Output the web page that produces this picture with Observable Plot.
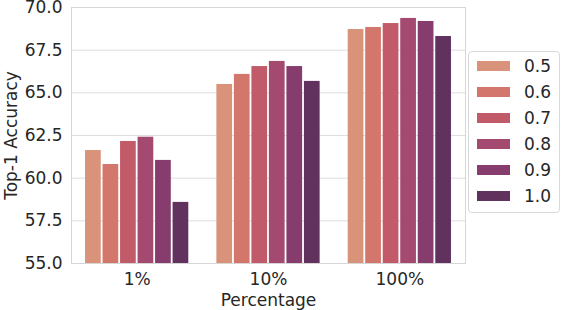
<!DOCTYPE html>
<html>
<head>
<meta charset="utf-8">
<script src="https://cdn.jsdelivr.net/npm/d3@7"></script>
<script src="https://cdn.jsdelivr.net/npm/@observablehq/plot@0.6"></script>
<style>
  html, body { margin: 0; padding: 0; background: white; }
  #wrap { position: relative; width: 562px; height: 310px; font-family: "DejaVu Sans", sans-serif; }
  #legend { position: absolute; left: 468px; top: 51px; width: 90px; height: 159px;
    border: 1px solid #d9d9d9; border-radius: 4px; background: white; box-sizing: content-box; padding-top: 1px; }
  .row { height: 26px; display: flex; align-items: center; }
  .sw { width: 33px; height: 10px; margin-left: 8px; margin-right: 14px; }
  .lb { font-size: 17px; color: #262626; line-height: 1; }
</style>
</head>
<body>
<div id="wrap"></div>
<script>
const groups = ["1%", "10%", "100%"];
const ratios = ["0.5", "0.6", "0.7", "0.8", "0.9", "1.0"];
const acc_1pct = [61.62, 60.80, 62.15, 62.40, 61.04, 58.58];
const acc_10pct = [65.49, 66.08, 66.54, 66.84, 66.54, 65.67];
const acc_100pct = [68.71, 68.83, 69.06, 69.36, 69.18, 68.30];
const yTicks = [55.0, 57.5, 60.0, 62.5, 65.0, 67.5, 70.0];
const palette = ["#d9937a", "#d3766c", "#c25b69", "#a44a70", "#863d6d", "#62325f"];

const series = [acc_1pct, acc_10pct, acc_100pct];
const groupWidth = 0.8;
const barW = groupWidth / ratios.length;
const rows = [];
series.forEach((vals, gi) => vals.forEach((v, ri) => rows.push({
  group: groups[gi], ratio: ratios[ri], gi, ri, value: v
})));
const yMin = yTicks[0], yMax = yTicks[yTicks.length - 1];

const chart = Plot.plot({
  width: 562, height: 310,
  marginLeft: 71, marginRight: 97, marginTop: 7, marginBottom: 47,
  style: { fontFamily: "DejaVu Sans", fontSize: "17px", color: "#262626", background: "white" },
  x: { domain: [-0.5, groups.length - 0.5] },
  y: { domain: [yMin, yMax] },
  color: { domain: ratios, range: palette },
  marks: [
    Plot.gridY(yTicks, { stroke: "#dedede", strokeOpacity: 1, strokeWidth: 1 }),
    Plot.rect(rows, {
      x1: d => d.gi - groupWidth / 2 + d.ri * barW,
      x2: d => d.gi - groupWidth / 2 + (d.ri + 1) * barW,
      y1: yMin, y2: "value", fill: "ratio", insetLeft: 0.9, insetRight: 0.9
    }),
    Plot.frame({ stroke: "#d6d6d6" }),
    Plot.axisX(groups.map((g, i) => i), {
      tickFormat: i => groups[i], tickSize: 0, tickPadding: 9,
      label: "Percentage", labelAnchor: "center", labelOffset: 42, labelArrow: false
    }),
    Plot.axisY(yTicks, {
      tickFormat: d3.format(".1f"), tickSize: 0, tickPadding: 9,
      label: "Top-1 Accuracy", labelAnchor: "center", labelOffset: 67, labelArrow: false
    })
  ]
});
const wrap = document.getElementById("wrap");
wrap.appendChild(chart);

const legend = document.createElement("div");
legend.id = "legend";
ratios.forEach((r, i) => {
  const row = document.createElement("div");
  row.className = "row";
  const sw = document.createElement("div");
  sw.className = "sw";
  sw.style.background = palette[i];
  const lb = document.createElement("span");
  lb.className = "lb";
  lb.textContent = r;
  row.appendChild(sw); row.appendChild(lb);
  legend.appendChild(row);
});
wrap.appendChild(legend);
</script>
</body>
</html>
